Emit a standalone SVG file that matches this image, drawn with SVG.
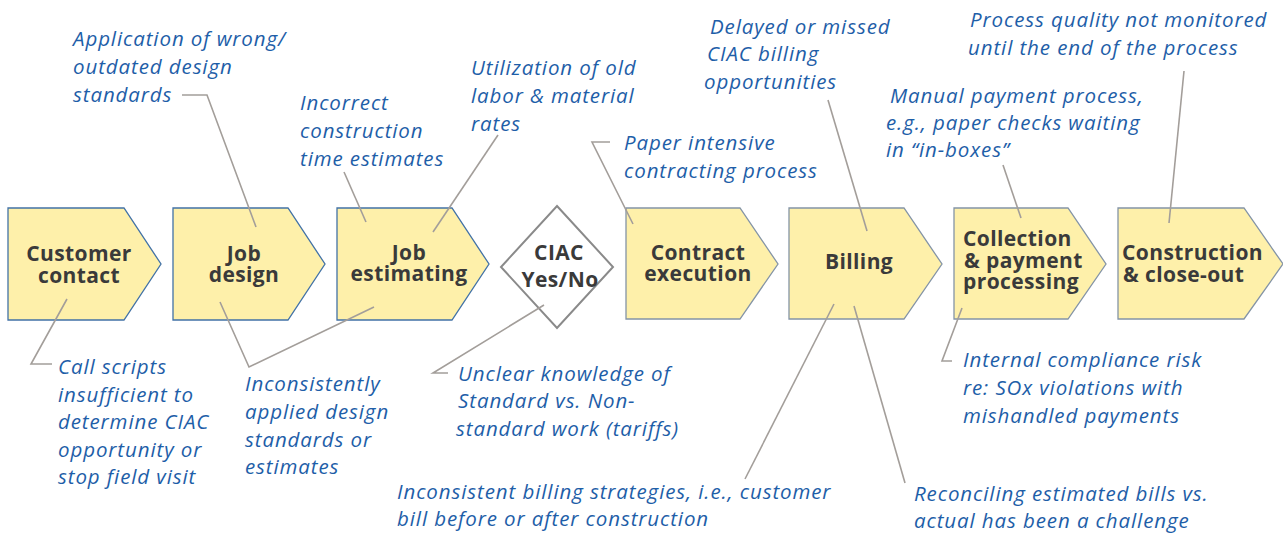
<svg xmlns="http://www.w3.org/2000/svg" width="1283" height="533" viewBox="0 0 1283 533">
  <style>
    .step { fill: #FEF0AA; stroke-width: 1.3; }
    .blue { stroke: #4272A6; }
    .grey { stroke: #8494A6; }
    .dec { fill: #FFFFFF; stroke: #8A8A8A; stroke-width: 2; }
    .lbl { font-family: "Open Sans", "Noto Sans", sans-serif; font-weight: bold; font-size: 21px; letter-spacing: 0.4px; fill: #3A3A3A; }
    .mid { text-anchor: middle; }
    .note { font-family: "Open Sans", "Noto Sans", sans-serif; font-style: italic; font-size: 20.5px; letter-spacing: 0.9px; fill: #1E5EA8; }
    .lead { fill: none; stroke: #A39E9A; stroke-width: 1.6; }
  </style>

  <!-- process steps -->
  <g id="customer-contact">
    <polygon class="step blue" points="8,208 124,208 161,264 124,320 8,320"/>
    <text class="lbl mid" x="79" y="261">Customer</text>
    <text class="lbl mid" x="79" y="283">contact</text>
  </g>
  <g id="job-design">
    <polygon class="step blue" points="173,208 288,208 325,264 288,320 173,320"/>
    <text class="lbl mid" x="244" y="261">Job</text>
    <text class="lbl mid" x="244" y="282">design</text>
  </g>
  <g id="job-estimating">
    <polygon class="step blue" points="337,208 452,208 489,264 452,320 337,320"/>
    <text class="lbl mid" x="409" y="260">Job</text>
    <text class="lbl mid" x="409" y="281">estimating</text>
  </g>
  <g id="ciac-decision">
    <polygon class="dec" points="557,206 613,267 557,328 501,267"/>
    <text class="lbl mid" x="559" y="260">CIAC</text>
    <text class="lbl mid" x="560" y="287">Yes/No</text>
  </g>
  <g id="contract-execution">
    <polygon class="step grey" points="626,208 740,208 778,264 740,319 626,319"/>
    <text class="lbl mid" x="698" y="260">Contract</text>
    <text class="lbl mid" x="698" y="281">execution</text>
  </g>
  <g id="billing">
    <polygon class="step grey" points="789,208 904,208 942,264 904,319 789,319"/>
    <text class="lbl mid" x="859" y="269">Billing</text>
  </g>
  <g id="collection">
    <polygon class="step grey" points="954,208 1068,208 1106,264 1068,319 954,319"/>
    <text class="lbl" x="963" y="246">Collection</text>
    <text class="lbl" x="964" y="268">&amp; payment</text>
    <text class="lbl" x="963" y="289">processing</text>
  </g>
  <g id="construction">
    <polygon class="step grey" points="1118,208 1244,208 1283,264 1244,319 1118,319"/>
    <text class="lbl" x="1122" y="260">Construction</text>
    <text class="lbl" x="1123" y="282">&amp; close-out</text>
  </g>

  <!-- callout leaders -->
  <g id="connectors">
    <polyline class="lead" points="182,95 207,95 256,227"/>
    <polyline class="lead" points="344,172 366,222"/>
    <polyline class="lead" points="498,135 433,232"/>
    <polyline class="lead" points="610,142 592,142 633,224"/>
    <polyline class="lead" points="828,100 867,231"/>
    <polyline class="lead" points="1003,165 1021,218"/>
    <polyline class="lead" points="1184,71 1169,223"/>
    <polyline class="lead" points="67,299 31,364 52,364"/>
    <polyline class="lead" points="220,302 249,367 374,307"/>
    <polyline class="lead" points="448,373 433,373 544,305"/>
    <polyline class="lead" points="745,479 834,304"/>
    <polyline class="lead" points="905,483 854,306"/>
    <polyline class="lead" points="962,308 942,361 952,361"/>
  </g>

  <!-- issue callouts -->
  <g id="note-design-standards">
    <text class="note" x="73" y="46">Application of wrong/</text>
    <text class="note" x="73" y="74">outdated design</text>
    <text class="note" x="73" y="102">standards</text>
  </g>
  <g id="note-time-estimates">
    <text class="note" x="300" y="110">Incorrect</text>
    <text class="note" x="300" y="138">construction</text>
    <text class="note" x="300" y="166">time estimates</text>
  </g>
  <g id="note-rates">
    <text class="note" x="471" y="75">Utilization of old</text>
    <text class="note" x="471" y="103">labor &amp; material</text>
    <text class="note" x="471" y="131">rates</text>
  </g>
  <g id="note-paper">
    <text class="note" x="624" y="150">Paper intensive</text>
    <text class="note" x="624" y="178">contracting process</text>
  </g>
  <g id="note-delayed-billing">
    <text class="note" x="710" y="34">Delayed or missed</text>
    <text class="note" x="707" y="61">CIAC billing</text>
    <text class="note" x="704" y="89">opportunities</text>
  </g>
  <g id="note-manual-payment">
    <text class="note" x="890" y="103">Manual payment process,</text>
    <text class="note" x="886" y="130">e.g., paper checks waiting</text>
    <text class="note" x="886" y="157">in “in-boxes”</text>
  </g>
  <g id="note-quality">
    <text class="note" x="970" y="27">Process quality not monitored</text>
    <text class="note" x="968" y="55">until the end of the process</text>
  </g>
  <g id="note-call-scripts">
    <text class="note" x="58" y="374">Call scripts</text>
    <text class="note" x="58" y="402">insufficient to</text>
    <text class="note" x="58" y="429">determine CIAC</text>
    <text class="note" x="58" y="457">opportunity or</text>
    <text class="note" x="58" y="484">stop field visit</text>
  </g>
  <g id="note-inconsistent-design">
    <text class="note" x="245" y="391">Inconsistently</text>
    <text class="note" x="245" y="419">applied design</text>
    <text class="note" x="245" y="447">standards or</text>
    <text class="note" x="245" y="474">estimates</text>
  </g>
  <g id="note-tariffs">
    <text class="note" x="458" y="381">Unclear knowledge of</text>
    <text class="note" x="458" y="408">Standard vs. Non-</text>
    <text class="note" x="456" y="436">standard work (tariffs)</text>
  </g>
  <g id="note-billing-strategy">
    <text class="note" x="397" y="499">Inconsistent billing strategies, i.e., customer</text>
    <text class="note" x="397" y="526">bill before or after construction</text>
  </g>
  <g id="note-reconciling">
    <text class="note" x="914" y="501">Reconciling estimated bills vs.</text>
    <text class="note" x="914" y="528">actual has been a challenge</text>
  </g>
  <g id="note-compliance">
    <text class="note" x="963" y="367">Internal compliance risk</text>
    <text class="note" x="963" y="395">re: SOx violations with</text>
    <text class="note" x="963" y="423">mishandled payments</text>
  </g>
</svg>
